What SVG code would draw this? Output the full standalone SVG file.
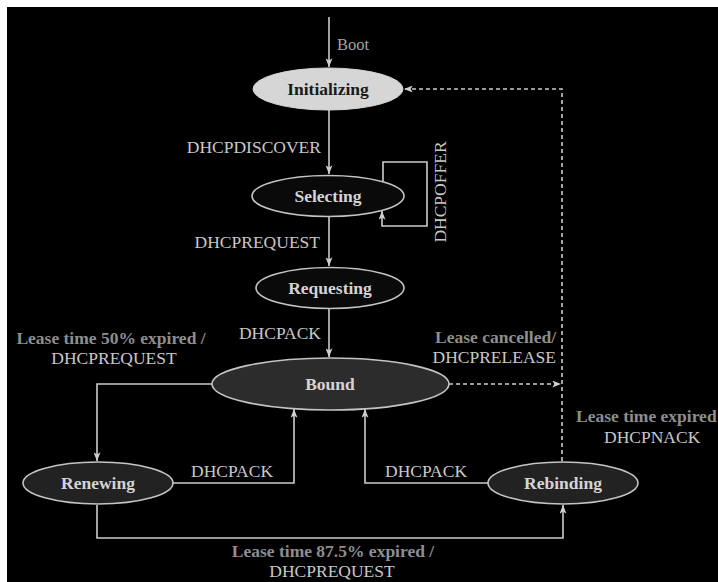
<svg xmlns="http://www.w3.org/2000/svg" width="718" height="582" viewBox="0 0 718 582">
  <defs>
    <marker id="arr" viewBox="0 0 10 8" refX="10" refY="4" markerWidth="10" markerHeight="7" markerUnits="userSpaceOnUse" orient="auto">
      <path d="M0,0 L10,4 L0,8 L2.5,4 z" fill="#d0d0d0"/>
    </marker>
    <style>
      .ln { fill: none; stroke: #cccccc; stroke-width: 1.6; }
      .dash { fill: none; stroke: #cccccc; stroke-width: 1.6; stroke-dasharray: 4 3; }
      .node { stroke: #c4c4c4; stroke-width: 1.6; }
      .dark { fill: #0a0a0a; }
      .grey { fill: #2c2c2c; }
      .grey2 { fill: #222222; }
      .ntext { font-family: "Liberation Serif", "Times New Roman", serif; font-size: 17.5px; font-weight: bold; fill: #d4d4d4; text-anchor: middle; }
      .lbl { font-family: "Liberation Serif", "Times New Roman", serif; font-size: 17.5px; fill: #c8c8c8; }
      .lease { font-family: "Liberation Serif", "Times New Roman", serif; font-size: 17.5px; font-weight: bold; fill: #8e8e8e; }
    </style>
  </defs>

  <rect x="0" y="0" width="718" height="582" fill="#ffffff"/>
  <rect x="7" y="7" width="711" height="575" fill="#000000"/>

  <g id="connectors">
    <path class="ln" d="M329,17 V67" marker-end="url(#arr)"/>
    <path class="ln" d="M329,110 V174" marker-end="url(#arr)"/>
    <path class="ln" d="M383,182 V162 H427 V226 H382 V211" marker-end="url(#arr)"/>
    <path class="ln" d="M329,217 V266" marker-end="url(#arr)"/>
    <path class="ln" d="M329,309 V357" marker-end="url(#arr)"/>
    <path class="ln" d="M212,384 H97 V461" marker-end="url(#arr)"/>
    <path class="ln" d="M173,483 H294 V409" marker-end="url(#arr)"/>
    <path class="ln" d="M488,483 H365 V409" marker-end="url(#arr)"/>
    <path class="ln" d="M97,505 V538 H563 V505" marker-end="url(#arr)"/>
    <path class="dash" d="M449,384 H561" marker-end="url(#arr)"/>
    <path class="dash" d="M562,461 V89 H404" marker-end="url(#arr)"/>

    <text class="lbl" x="337" y="50" style="font-size:16.5px; fill:#a0a0a0">Boot</text>
    <text class="lbl" x="321" y="153" text-anchor="end">DHCPDISCOVER</text>
    <text class="lbl" x="320" y="248" text-anchor="end">DHCPREQUEST</text>
    <text class="lbl" transform="translate(446,192) rotate(-90)" x="0" y="0" text-anchor="middle">DHCPOFFER</text>
    <text class="lbl" x="321" y="339" text-anchor="end">DHCPACK</text>
    <text class="lease" x="111" y="344" text-anchor="middle">Lease time 50% expired /</text>
    <text class="lbl" x="114" y="364" text-anchor="middle">DHCPREQUEST</text>
    <text class="lease" x="556" y="343" text-anchor="end">Lease cancelled/</text>
    <text class="lbl" x="556" y="363" text-anchor="end">DHCPRELEASE</text>
    <text class="lease" x="576" y="422">Lease time expired</text>
    <text class="lbl" x="604" y="443">DHCPNACK</text>
    <text class="lbl" x="191" y="477">DHCPACK</text>
    <text class="lbl" x="385" y="477">DHCPACK</text>
    <text class="lease" x="333" y="557" text-anchor="middle">Lease time 87.5% expired /</text>
    <text class="lbl" x="332" y="577" text-anchor="middle">DHCPREQUEST</text>
  </g>

  <g id="initializing">
    <ellipse cx="328" cy="89" rx="75" ry="21" fill="#d6d6d6" stroke="#d6d6d6" stroke-width="1"/>
    <text class="ntext" x="328" y="95" style="fill:#1a1a1a">Initializing</text>
  </g>
  <g id="selecting">
    <ellipse class="node dark" cx="328" cy="196" rx="76" ry="20.5"/>
    <text class="ntext" x="328" y="202">Selecting</text>
  </g>
  <g id="requesting">
    <ellipse class="node dark" cx="330" cy="288" rx="74" ry="20.5"/>
    <text class="ntext" x="330" y="294">Requesting</text>
  </g>
  <g id="bound">
    <ellipse class="node grey" cx="330.5" cy="384" rx="118.5" ry="26"/>
    <text class="ntext" x="330" y="390">Bound</text>
  </g>
  <g id="renewing">
    <ellipse class="node grey2" cx="98" cy="483" rx="75" ry="21"/>
    <text class="ntext" x="98" y="489">Renewing</text>
  </g>
  <g id="rebinding">
    <ellipse class="node grey2" cx="563" cy="483" rx="75" ry="21"/>
    <text class="ntext" x="563" y="489">Rebinding</text>
  </g>
</svg>
